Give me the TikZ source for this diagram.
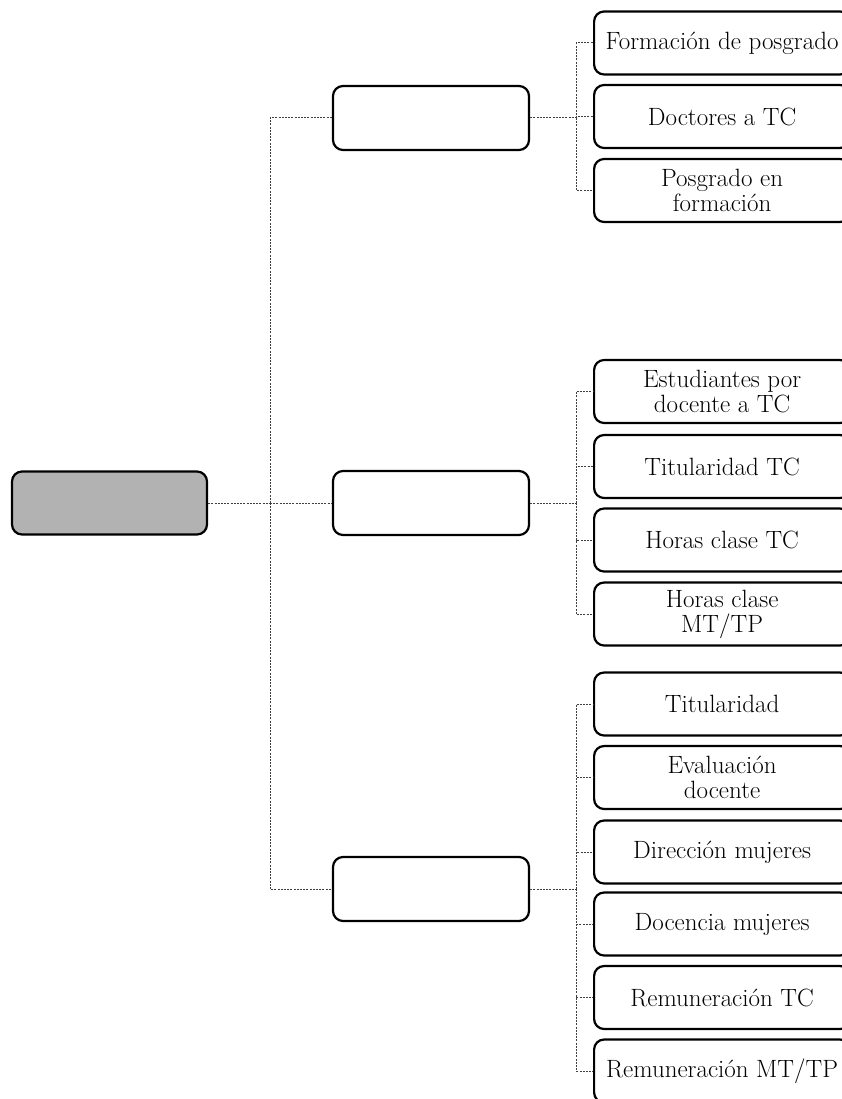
\documentclass[tikz,border=0pt]{standalone}
\usetikzlibrary{positioning}
\begin{document}
\begin{tikzpicture}[x=1pt,y=-1pt,
  box/.style={draw=black,line width=2.2pt,rounded corners=10pt,align=center,
    inner sep=0pt,font=\fontsize{25}{25}\selectfont},
  rootbox/.style={box,minimum width=195pt,minimum height=63pt,fill=black!30},
  midbox/.style={box,minimum width=196pt,minimum height=64pt},
  leafbox/.style={box,minimum width=256pt,minimum height=63pt,anchor=west},
  conn/.style={draw=black!75,line width=1pt,dash pattern=on 2pt off 1.2pt}]
\useasboundingbox (0,0) rectangle (841,1099);
% root and middle level
\node[rootbox] (root) at (109.5,503) {};
\node[midbox] (m1) at (431,118) {};
\node[midbox] (m2) at (431,503) {};
\node[midbox] (m3) at (431,889) {};
% leaves
\node[leafbox] (l1) at (593,43) {Formación de posgrado};
\node[leafbox] (l2) at (593,116.5) {Doctores a TC};
\node[leafbox] (l3) at (593,190.5) {Posgrado en\\formación};
\node[leafbox] (l4) at (593,391.5) {Estudiantes por\\docente a TC};
\node[leafbox] (l5) at (593,466.5) {Titularidad TC};
\node[leafbox] (l6) at (593,540) {Horas clase TC};
\node[leafbox] (l7) at (593,614) {Horas clase\\MT/TP};
\node[leafbox] (l8) at (593,704) {Titularidad};
\node[leafbox] (l9) at (593,777.5) {Evaluación\\docente};
\node[leafbox] (l10) at (593,852) {Dirección mujeres};
\node[leafbox] (l11) at (593,924) {Docencia mujeres};
\node[leafbox] (l12) at (593,997.5) {Remuneración TC};
\node[leafbox] (l13) at (593,1071) {Remuneración MT/TP};
% fork coordinates
\coordinate (t0) at (270,503);
\coordinate (f1) at (576,118);
\coordinate (f2) at (576,503);
\coordinate (f3) at (576,889);
% connectors
\draw[conn] (root.east) -- (t0);
\foreach \m in {m1,m2,m3} \draw[conn] (t0) |- (\m.west);
\draw[conn] (m1.east) -- (f1);
\draw[conn] (m2.east) -- (f2);
\draw[conn] (m3.east) -- (f3);
\foreach \l in {l1,l2,l3} \draw[conn] (f1) |- (\l.west);
\foreach \l in {l4,l5,l6,l7} \draw[conn] (f2) |- (\l.west);
\foreach \l in {l8,l9,l10,l11,l12,l13} \draw[conn] (f3) |- (\l.west);
\end{tikzpicture}
\end{document}
